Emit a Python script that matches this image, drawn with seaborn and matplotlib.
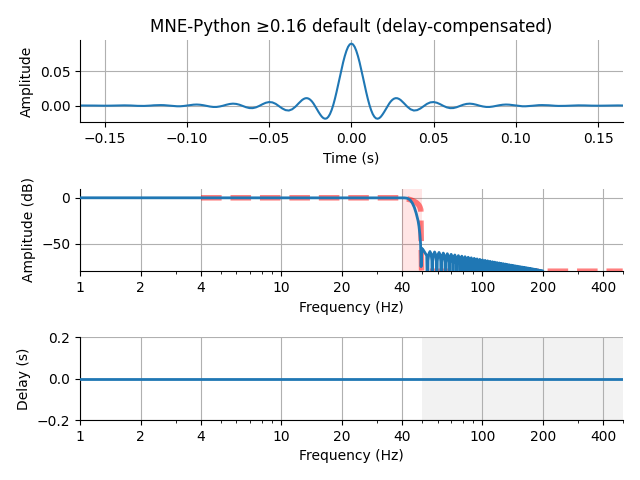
import matplotlib
matplotlib.use("Agg")
import matplotlib.pyplot as plt
import seaborn as sns
import numpy as np
import pandas as pd

# --- impulse response (right half, symmetric filter)
half_t_ms = [0, 1, 2, 3, 4, 5, 6, 7, 8, 9, 10, 11, 12, 13, 14, 15, 16, 17, 18, 19,
             20, 21, 22, 23, 24, 25, 26, 27, 28, 29, 30, 32, 34, 36, 38, 40, 42, 44,
             46, 48, 50, 52, 54, 56, 58, 60, 62, 64, 66, 68, 70, 72, 74, 76, 78, 80,
             82, 84, 86, 88, 90, 92, 94, 96, 98, 100, 102, 104, 106, 108, 110, 112,
             114, 116, 118, 120, 122, 124, 126, 128, 130, 132, 134, 136, 138, 140,
             142, 144, 146, 148, 150, 152, 154, 156, 158, 160, 162, 164, 165]
half_amp = [0.0900, 0.0888, 0.0853, 0.0795, 0.0719, 0.0628, 0.0525, 0.0416, 0.0305,
            0.0198, 0.0098, 0.0009, -0.0065, -0.0123, -0.0163, -0.0186, -0.0191,
            -0.0182, -0.0160, -0.0128, -0.0091, -0.0050, -0.0009, 0.0029, 0.0061,
            0.0085, 0.0101, 0.0108, 0.0106, 0.0096, 0.0080, 0.0034, -0.0016, -0.0054,
            -0.0072, -0.0066, -0.0042, -0.0008, 0.0025, 0.0046, 0.0051, 0.0041,
            0.0020, -0.0005, -0.0026, -0.0037, -0.0036, -0.0024, -0.0006, 0.0012,
            0.0024, 0.0028, 0.0023, 0.0012, -0.0002, -0.0013, -0.0020, -0.0020,
            -0.0014, -0.0004, 0.0005, 0.0012, 0.0015, 0.0013, 0.0007, 0.0000,
            -0.0006, -0.0010, -0.0010, -0.0007, -0.0003, 0.0002, 0.0006, 0.0007,
            0.0006, 0.0004, 0.0000, -0.0003, -0.0005, -0.0005, -0.0004, -0.0002,
            0.0001, 0.0002, 0.0003, 0.0003, 0.0002, 0.0000, -0.0001, -0.0002,
            -0.0002, -0.0002, -0.0001, 0.0000, 0.0001, 0.0002, 0.0002, 0.0001, 0.0001]

# --- magnitude response: passband + transition (Hz, dB)
edge_hz = [1, 10, 20, 30, 38, 40, 41, 42, 43, 44, 45, 46, 47, 48, 48.5, 49, 49.4,
           49.7, 50.1, 51.0, 52.0, 53.0]
edge_db = [0, 0, 0, 0, -0.01, -0.03, -0.1, -0.35, -1.1, -2.8, -6.0, -10.5, -17.0,
           -25.0, -31.0, -40.0, -50.0, -75.0, -55.0, -57.0, -60.0, -63.0]

# stopband lobes: peak frequency (Hz) and peak level (dB)
lobe_hz = [55.0, 58.0, 61.0, 64.1, 67.1, 70.1, 73.1, 76.2, 79.2, 82.2, 85.2, 88.3,
           91.3, 94.3, 97.3, 100.4, 103.4, 106.4, 109.4, 112.5, 115.5, 118.5, 121.5,
           124.6, 127.6, 130.6, 133.6, 136.7, 139.7, 142.7, 145.7, 148.8, 151.8,
           154.8, 157.8, 160.9, 163.9, 166.9, 169.9, 173.0, 176.0, 179.0, 182.0,
           185.1, 188.1, 191.1, 194.1, 197.2, 200.2]
lobe_db = [-58.5, -59.0, -59.5, -60.2, -60.9, -61.6, -62.3, -63.0, -63.6, -64.2,
           -64.8, -65.4, -66.0, -66.6, -67.1, -67.7, -68.2, -68.7, -69.2, -69.7,
           -70.1, -70.6, -71.0, -71.4, -71.8, -72.2, -72.6, -73.0, -73.4, -73.7,
           -74.1, -74.4, -74.8, -75.1, -75.4, -75.7, -76.0, -76.3, -76.6, -76.9,
           -77.2, -77.5, -77.8, -78.1, -78.4, -78.7, -79.0, -79.3, -79.6]
# shape of one lobe between two notches (fraction of lobe, dB below the peak)
lobe_shape_pos = [0.0, 0.1, 0.25, 0.5, 0.75, 0.9]
lobe_shape_db = [-60.0, -10.0, -3.0, 0.0, -3.0, -10.0]

# --- ideal (desired) response, dashed red
ideal_hz = [4, 40, 42, 44, 45, 46, 47, 48, 48.5, 49, 49.5, 50, 500]
ideal_db = [0, 0, -0.97, -2.2, -3.0, -4.0, -5.2, -7.0, -8.2, -10.0, -13.0, -80, -80]
transition_hz = (40, 50)

# --- group delay (delay compensated -> zero)
delay_hz = [1, 500]
delay_s = [0.0, 0.0]
stopband_hz = (50, 500)

freq_ticks = [1, 2, 4, 10, 20, 40, 100, 200, 400]

# assemble tables
t = [-x / 1000 for x in half_t_ms[:0:-1]] + [x / 1000 for x in half_t_ms]
h = half_amp[:0:-1] + half_amp
imp = pd.DataFrame({"t": t, "h": h})

notches = [53.5] + [(a + b) / 2 for a, b in zip(lobe_hz[:-1], lobe_hz[1:])] + [201.7]
mag_f, mag_db = list(edge_hz), list(edge_db)
for k, peak in enumerate(lobe_db):
    lo, hi = notches[k], notches[k + 1]
    for p, d in zip(lobe_shape_pos, lobe_shape_db):
        mag_f.append(lo + p * (hi - lo))
        mag_db.append(peak + d)
mag_f += [notches[-1], 500]
mag_db += [-140, -140]
mag = pd.DataFrame({"f": mag_f, "db": mag_db})
ideal = pd.DataFrame({"f": ideal_hz, "db": ideal_db})
dly = pd.DataFrame({"f": delay_hz, "d": delay_s})

blue = "#1f77b4"
fig, axes = plt.subplots(3, 1, figsize=(6.4, 4.8), dpi=100)
fig.subplots_adjust(left=0.125, right=0.973, top=0.917, bottom=0.125, hspace=0.8)

ax = axes[0]
sns.lineplot(data=imp, x="t", y="h", ax=ax, color=blue, linewidth=1.5,
             estimator=None, sort=False)
ax.set_xlim(t[0], t[-1])
ax.set_xlabel("Time (s)")
ax.set_ylabel("Amplitude")
ax.set_title("MNE-Python \u22650.16 default (delay-compensated)")
ax.grid(True)

ax = axes[1]
ax.set_xscale("log")
ax.fill_between(transition_hz, -80, 10, color="r", alpha=0.1, linewidth=0, zorder=2)
sns.lineplot(data=ideal, x="f", y="db", ax=ax, color="r", alpha=0.5, linewidth=4,
             linestyle="--", estimator=None, sort=False, zorder=3)
sns.lineplot(data=mag, x="f", y="db", ax=ax, color=blue, linewidth=2,
             estimator=None, sort=False, zorder=4)
ax.set_ylim(-80, 10)
ax.set_ylabel("Amplitude (dB)")

ax = axes[2]
ax.set_xscale("log")
ax.axvspan(*stopband_hz, color="k", alpha=0.05, linewidth=0, zorder=1)
sns.lineplot(data=dly, x="f", y="d", ax=ax, color=blue, linewidth=2,
             estimator=None, sort=False, zorder=4)
ax.set_ylim(-0.2, 0.2)
ax.set_ylabel("Delay (s)")

for ax in axes[1:]:
    ax.set_xlim(1, 500)
    ax.set_xticks(freq_ticks)
    ax.set_xticklabels([str(f) for f in freq_ticks])
    ax.xaxis.set_minor_formatter(matplotlib.ticker.NullFormatter())
    ax.set_xlabel("Frequency (Hz)")
    ax.grid(True)

sns.despine(fig=fig)
fig.savefig("out.png", dpi=100)
